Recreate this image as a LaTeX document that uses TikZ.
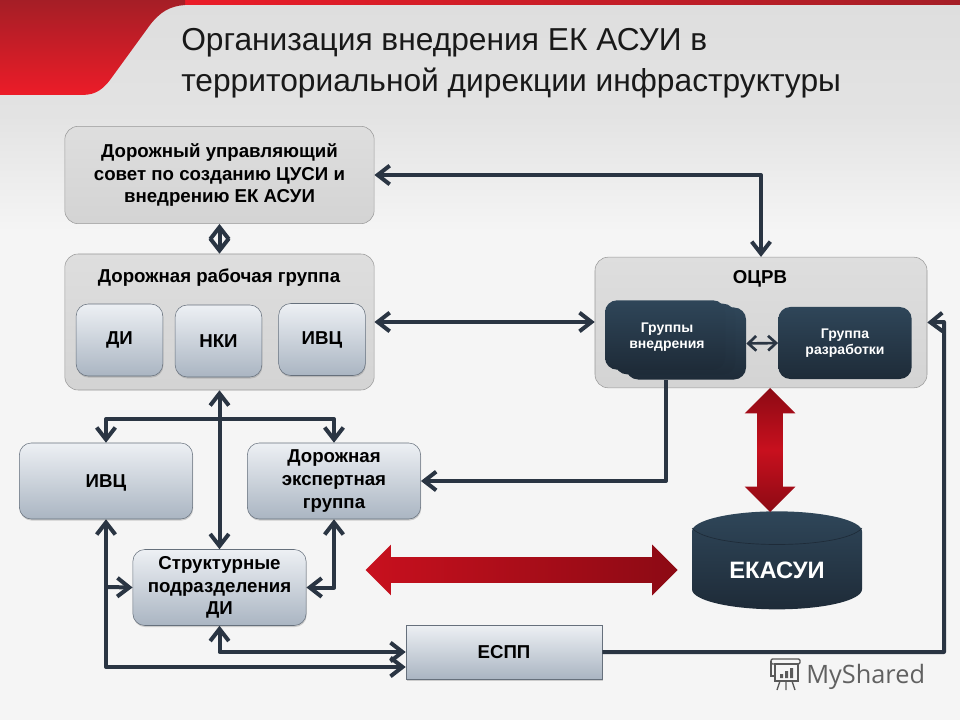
\documentclass[tikz,border=0pt]{standalone}
\usepackage{fontspec}
\setmainfont{Liberation Sans}
\newfontfamily\logofont{Open Sans}
\usetikzlibrary{arrows.meta,shapes.geometric,shapes.arrows,shadows}
\definecolor{linedark}{HTML}{2A3543}
\definecolor{navytop}{HTML}{2F4659}
\definecolor{navybot}{HTML}{1E2B38}
\definecolor{redtop}{HTML}{A51E26}
\definecolor{redbot}{HTML}{EC1C28}
\definecolor{redhi}{HTML}{C8101E}
\definecolor{redlo}{HTML}{8C0A14}
\definecolor{paletop}{HTML}{EDF0F4}
\definecolor{palebot}{HTML}{AAB5C2}
\definecolor{paleedge}{HTML}{66707C}
\tikzset{
	barb/.tip={Straight Barb[length=9pt,width=14pt,line width=3pt]},
	thinbarb/.tip={Straight Barb[length=6pt,width=11pt,line width=2pt]},
	panel/.style={rectangle, rounded corners=10pt, draw=gray!80, top color=black!13, bottom color=black!17, font=\bfseries\fontsize{14}{17}\selectfont, align=center, inner sep=0pt},
	paleblock/.style={rectangle, rounded corners=9pt, draw=paleedge, top color=paletop, bottom color=palebot, drop shadow={opacity=0.35, shadow xshift=0.4pt, shadow yshift=-1.2pt}, font=\bfseries\fontsize{14}{17}\selectfont, align=center, inner sep=0pt},
	lowtext/.style={execute at begin node={\rule{0pt}{13pt}}},
	darkblock/.style={rectangle, rounded corners=9pt, top color=navytop, bottom color=navybot, text=white, font=\bfseries\fontsize{10.5}{12}\selectfont, align=center, inner sep=0pt},
	link/.style={draw=linedark, line width=3pt, barb-barb, line join=round},
	onelink/.style={draw=linedark, line width=3pt, -barb, line join=round},
	thinlink/.style={draw=linedark, line width=2pt, thinbarb-thinbarb},
	redarrow/.style={double arrow, double arrow tip angle=90, double arrow head extend=9.4pt, inner xsep=0pt, inner ysep=9.4pt, draw=none},
}
\begin{document}
\begin{tikzpicture}[x=0.75pt, y=-0.75pt]
\useasboundingbox (0,0) rectangle (960,720);
% backdrop
\shade[top color=black!13, bottom color=black!4, middle color=black!11] (0,0) rectangle (960,230);
\fill[black!4] (0,230) rectangle (960,720);
\shade[left color=redbot, right color=redtop] (170,0) rectangle (960,5);
\shade[top color=redtop, bottom color=redbot] (0,0) -- (185,0) -- (185,5) .. controls (170,6) and (160,12) .. (150,25) -- (110,80) .. controls (100,93) and (92,95) .. (80,95) -- (0,95) -- cycle;

\node[anchor=west, align=left, inner sep=0pt, font=\fontsize{23.8}{30.75}\selectfont, text=black!90] (title) at (181,63) {Организация внедрения ЕК АСУИ в\\территориальной дирекции инфраструктуры};

% top left
\node[panel, minimum width=232pt, minimum height=73pt] (council) at (219.5,175) {Дорожный управляющий\\совет по созданию ЦУСИ и\\внедрению ЕК АСУИ};
\node[panel, minimum width=232pt, minimum height=102pt] (workgroup) at (219.5,322) {};
\node[anchor=base, font=\bfseries\fontsize{14}{16}\selectfont] (workgrouplabel) at (219,283) {Дорожная рабочая группа};
\node[paleblock, minimum width=65pt, minimum height=54pt] (di) at (119.5,340) {ДИ};
\node[paleblock, minimum width=65pt, minimum height=54pt] (nki) at (218.5,341) {НКИ};
\node[paleblock, minimum width=65pt, minimum height=54pt] (ivcin) at (322,339.5) {ИВЦ};

% right
\node[panel, minimum width=249pt, minimum height=98pt] (ocrv) at (761,322.5) {};
\node[anchor=base, font=\bfseries\fontsize{14}{16}\selectfont] (ocrvlabel) at (760,284) {ОЦРВ};
\node[darkblock, minimum width=90pt, minimum height=54pt] (stackc) at (686,343.5) {};
\node[darkblock, minimum width=90pt, minimum height=53pt] (stackb) at (675,339) {};
\node[darkblock, minimum width=90pt, minimum height=52pt] (stacka) at (665,335) {};
\node[font=\bfseries\fontsize{10.5}{12}\selectfont, text=white, align=center, inner sep=0pt] (stacklabel) at (667,337) {Группы\\внедрения};
\node[darkblock, minimum width=100pt, minimum height=54pt] (dev) at (845,343) {Группа\\разработки};
\coordinate (stackout) at (666,380);

% lower left
\node[paleblock, lowtext, minimum width=130pt, minimum height=57pt] (ivc) at (106,481) {ИВЦ};
\node[paleblock, lowtext, minimum width=130pt, minimum height=57pt] (expert) at (334,481) {Дорожная\\экспертная\\группа};
\node[paleblock, minimum width=130pt, minimum height=57pt] (units) at (219.5,587.5) {Структурные\\подразделения\\ДИ};
\node[rectangle, draw=paleedge, top color=paletop, bottom color=palebot, drop shadow={opacity=0.35, shadow xshift=0.4pt, shadow yshift=-1.2pt}, minimum width=147pt, minimum height=40.5pt, inner sep=0pt, font=\bfseries\fontsize{14}{16}\selectfont] (espp) at (504,652) {ЕСПП};

% database
\node[cylinder, shape border rotate=90, aspect=0.42, minimum width=127.5pt, minimum height=73.5pt, shading=axis, top color=navytop, bottom color=navybot, shading angle=0, inner sep=0pt, text=white, font=\bfseries\fontsize{17.8}{20}\selectfont] (db) at (777,570.5) {ЕКАСУИ};
\draw[navybot, line width=0.5pt] (692,528) .. controls (710,550) and (844,550) .. (862,528);

% big red arrows
\node[redarrow, minimum height=234pt, left color=redhi, right color=redlo] (bigh) at (521.5,570) {};
\node[redarrow, minimum height=93pt, rotate=90, top color=redlo, bottom color=redlo, middle color=redhi] (bigv) at (770,450) {};

% connectors
\coordinate (branch) at (219,419);
\coordinate (ivcjoin) at (106,587);
\draw[link] (council.east) -| (ocrv.north);
\draw[link] (council.south) -- (workgroup.north);
\draw[link] (workgroup.east) -- (workgroup.east -| ocrv.west);
\draw[thinlink] (stackc.east) -- (dev.west);
\draw[onelink] (stackout) |- (expert.east);
\draw[link] (workgroup.south) -- (units.north);
\draw[link] (ivc.north) |- (branch) -| (expert.north);
\draw[link] (ivc.south) |- ([yshift=-11.25pt]espp.west);
\draw[onelink] (ivcjoin) -- (units.west);
\draw[link] (units.east) -| (expert.south);
\draw[link] (units.south) |- (espp.west);
\draw[onelink] (espp.east) -- (944,652) -- (944,322) -- (ocrv.east);

% logo
\node[anchor=base west, text=black!62, inner sep=0pt, font=\logofont\fontsize{19}{22}\selectfont] (logo) at (806,683) {MyShared};
\begin{scope}[draw=black!65, line width=1pt]
	\draw[rounded corners=1pt] (771,659) rectangle (800,664);
	\draw (771,661) -- (771,676) -- (775,676);
	\draw (775,664) rectangle (798,681);
	\draw (780,681) -- (777,690) (786,681) -- (786,690) (792,681) -- (795,690);
	\fill[black!65] (780,674) rectangle (783,678) (785,671) rectangle (788,678) (790,668) rectangle (793,678);
\end{scope}
\end{tikzpicture}
\end{document}
